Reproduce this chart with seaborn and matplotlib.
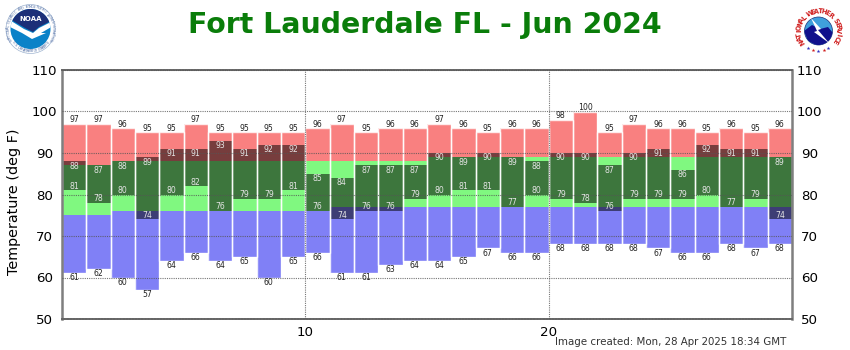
import matplotlib
matplotlib.use('Agg')
import matplotlib.pyplot as plt
from matplotlib.patches import Circle, Polygon
import numpy as np
import seaborn as sns

days = np.arange(1, 31)
record_high = np.array([97, 97, 96, 95, 95, 97, 95, 95, 95, 95,
                        96, 97, 95, 96, 96, 97, 96, 95, 96, 96,
                        98, 100, 95, 97, 96, 96, 95, 96, 95, 96])
normal_high = np.array([87, 87, 88, 88, 88, 88, 88, 88, 88, 88,
                        88, 88, 88, 88, 88, 89, 89, 89, 89, 89,
                        89, 89, 89, 89, 89, 89, 89, 89, 89, 89])
normal_low = np.array([75, 75, 76, 76, 76, 76, 76, 76, 76, 76,
                       76, 77, 77, 77, 77, 77, 77, 77, 77, 77,
                       77, 77, 77, 77, 77, 77, 77, 77, 77, 77])
record_low = np.array([61, 62, 60, 57, 64, 66, 64, 65, 60, 65,
                       66, 61, 61, 63, 64, 64, 65, 67, 66, 66,
                       68, 68, 68, 68, 67, 66, 66, 68, 67, 68])
obs_high = np.array([88, 87, 88, 89, 91, 91, 93, 91, 92, 92,
                     85, 84, 87, 87, 87, 90, 89, 90, 89, 88,
                     90, 90, 87, 90, 91, 86, 92, 91, 91, 89])
obs_low = np.array([81, 78, 80, 74, 80, 82, 76, 79, 79, 81,
                    76, 74, 76, 76, 79, 80, 81, 81, 77, 80,
                    79, 78, 76, 79, 79, 79, 80, 77, 79, 74])
y_ticks = [50, 60, 70, 80, 90, 100, 110]
x_tick_days = [10, 20]

RED = '#f98080'
GREEN = '#80f880'
BLUE = '#8080f6'
GRID = '#555555'
FRAME = '#7f7f7f'

sns.set_theme(style='white', rc={'font.family': ['DejaVu Sans']})

fig = plt.figure(figsize=(8.5, 3.5), dpi=100)
ax = fig.add_axes([62 / 850, 1 - 319 / 350, 730 / 850, 249 / 350])

bands = [(record_low, normal_low, BLUE),
         (normal_low, normal_high, GREEN),
         (normal_high, record_high, RED)]
for low, high, colour in bands:
    sns.barplot(x=days, y=high - low, bottom=low, color=colour, saturation=1,
                width=1, linewidth=0, errorbar=None, ax=ax)

# observed range sits on top as a see-through dark bar
sns.barplot(x=days, y=obs_high - obs_low, bottom=obs_low, color='black', alpha=0.52,
            saturation=1, width=1, linewidth=0, errorbar=None, ax=ax)
# pale outline round every day
sns.barplot(x=days, y=record_high - record_low, bottom=record_low, color='white', facecolor='none',
            edgecolor=(1, 1, 1, 0.85), saturation=1, width=1, linewidth=1,
            errorbar=None, ax=ax)

ax.set_xlim(-0.5, 29.5)
ax.set_ylim(50, 110)
ax.set_yticks(y_ticks)
ax.set_xticks([d - 0.5 for d in x_tick_days], labels=x_tick_days)
ax.set_xlabel('')
ax.set_ylabel('Temperature (deg F)', fontsize=10.4, color='black')
ax.yaxis.set_label_coords((21 - 62) / 730, 1 - (202 - 70) / 249)
ax.grid(True, color=GRID, linestyle=(0, (1, 1)), linewidth=0.8, alpha=0.8)
ax.set_axisbelow(False)

ax.tick_params(axis='x', length=0, labelsize=9.6, pad=5, colors='black')
ax.tick_params(axis='y', length=0, labelsize=9.6, labelright=True, right=False, colors='black')
for tick in ax.yaxis.get_major_ticks():
    tick.label1.set_horizontalalignment('center')
    tick.label2.set_horizontalalignment('center')
    tick.set_pad(12.5)

for side in ['left', 'right']:
    ax.spines[side].set_color(FRAME)
    ax.spines[side].set_linewidth(1.8)
for side in ['top', 'bottom']:
    ax.spines[side].set_color('#666666')
    ax.spines[side].set_linewidth(1.4)
    ax.spines[side].set_linestyle((0, (1, 0.6)))

for i in range(len(days)):
    ax.annotate(str(record_high[i]), (i, record_high[i]), xytext=(0, 2.9), textcoords='offset points',
                ha='center', va='center', fontsize=5.6, color='#222222')
    ax.annotate(str(record_low[i]), (i, record_low[i]), xytext=(0, -3.3), textcoords='offset points',
                ha='center', va='center', fontsize=5.6, color='#222222')
    ax.annotate(str(obs_high[i]), (i, obs_high[i]), xytext=(0, -3.6), textcoords='offset points',
                ha='center', va='center', fontsize=5.6, color='#e4e4e4')
    ax.annotate(str(obs_low[i]), (i, obs_low[i]), xytext=(0, 3), textcoords='offset points',
                ha='center', va='center', fontsize=5.6, color='#e4e4e4')

fig.text(425 / 850, 1 - 25 / 350, 'Fort Lauderdale FL - Jun 2024', ha='center', va='center',
         fontsize=20.4, fontweight='bold', color='#0a7d0a')
fig.text(786 / 850, 1 - 342 / 350, 'Image created: Mon, 28 Apr 2025 18:34 GMT', ha='right', va='center',
         fontsize=7.35, color='#333333')

# logos go on a pixel-sized layer over the whole figure
logo = fig.add_axes([0, 0, 1, 1], zorder=5)
logo.set_xlim(0, 850)
logo.set_ylim(350, 0)
logo.axis('off')


def ring_text(text, cx, cy, r, start, stop, bottom=False, **kws):
    angles = np.linspace(start, stop, len(text))
    for ch, a in zip(text, angles):
        t = np.radians(a)
        rot = 180 - a if bottom else -a
        logo.text(cx + r * np.sin(t), cy - r * np.cos(t), ch, rotation=rot,
                  ha='center', va='center', rotation_mode='anchor', **kws)


# NOAA
cx, cy = 30.5, 29
logo.add_patch(Circle((cx, cy), 24.5, fc='white', ec='#9fb4d0', lw=0.5))
disc = Circle((cx, cy), 20, fc='#0a82c8', ec='none')
logo.add_patch(disc)
navy = Polygon([(8, 5), (53, 5), (53, 20), (39, 27), (33, 32), (25, 28), (8, 18)], fc='#1c2f78', ec='none')
bird = Polygon([(8, 19), (24, 29), (33, 33), (39, 28), (53, 21), (53, 26), (41, 33), (46, 33),
                (32, 39), (22, 33), (8, 26)], fc='white', ec='none')
logo.add_patch(navy)
logo.add_patch(bird)
navy.set_clip_path(disc)
bird.set_clip_path(disc)
logo.text(cx, 19, 'NOAA', ha='center', va='center', fontsize=5, fontweight='bold', color='white')
ring_text('NATIONAL OCEANIC AND ATMOSPHERIC ADMINISTRATION', cx, cy, 22.3, -118, 118,
          fontsize=2.4, color='#5a76aa')
ring_text('U.S. DEPARTMENT OF COMMERCE', cx, cy, 22.3, 232, 128, bottom=True,
          fontsize=2.4, color='#5a76aa')

# NWS
cx, cy = 818.5, 31
disc = Circle((cx, cy), 14, fc='#3fa0dc', ec='#1c2f78', lw=0.5)
logo.add_patch(disc)
cloud = Polygon([(804, 31), (812, 25), (820, 29), (828, 27), (833, 33), (829, 42), (818, 46), (808, 41)],
                fc='#10108c', ec='none')
bolt = Polygon([(811, 18), (821, 29), (818, 30), (829, 43), (814, 32), (817, 31)], fc='white', ec='none')
logo.add_patch(cloud)
logo.add_patch(bolt)
cloud.set_clip_path(disc)
ring_text('NATIONAL WEATHER SERVICE', cx, cy, 19.5, -122, 122,
          fontsize=4.8, fontweight='bold', color='#d02020')
star_angles = [150, 165, 180, 195, 210]
star_colours = ['#3030c0', '#d02020', '#3030c0', '#d02020', '#3030c0']
for a, c in zip(star_angles, star_colours):
    t = np.radians(a)
    logo.plot(cx + 20 * np.sin(t), cy - 20 * np.cos(t), marker='*', ms=2.8, color=c, mew=0)

fig.savefig('out.png', dpi=100)
